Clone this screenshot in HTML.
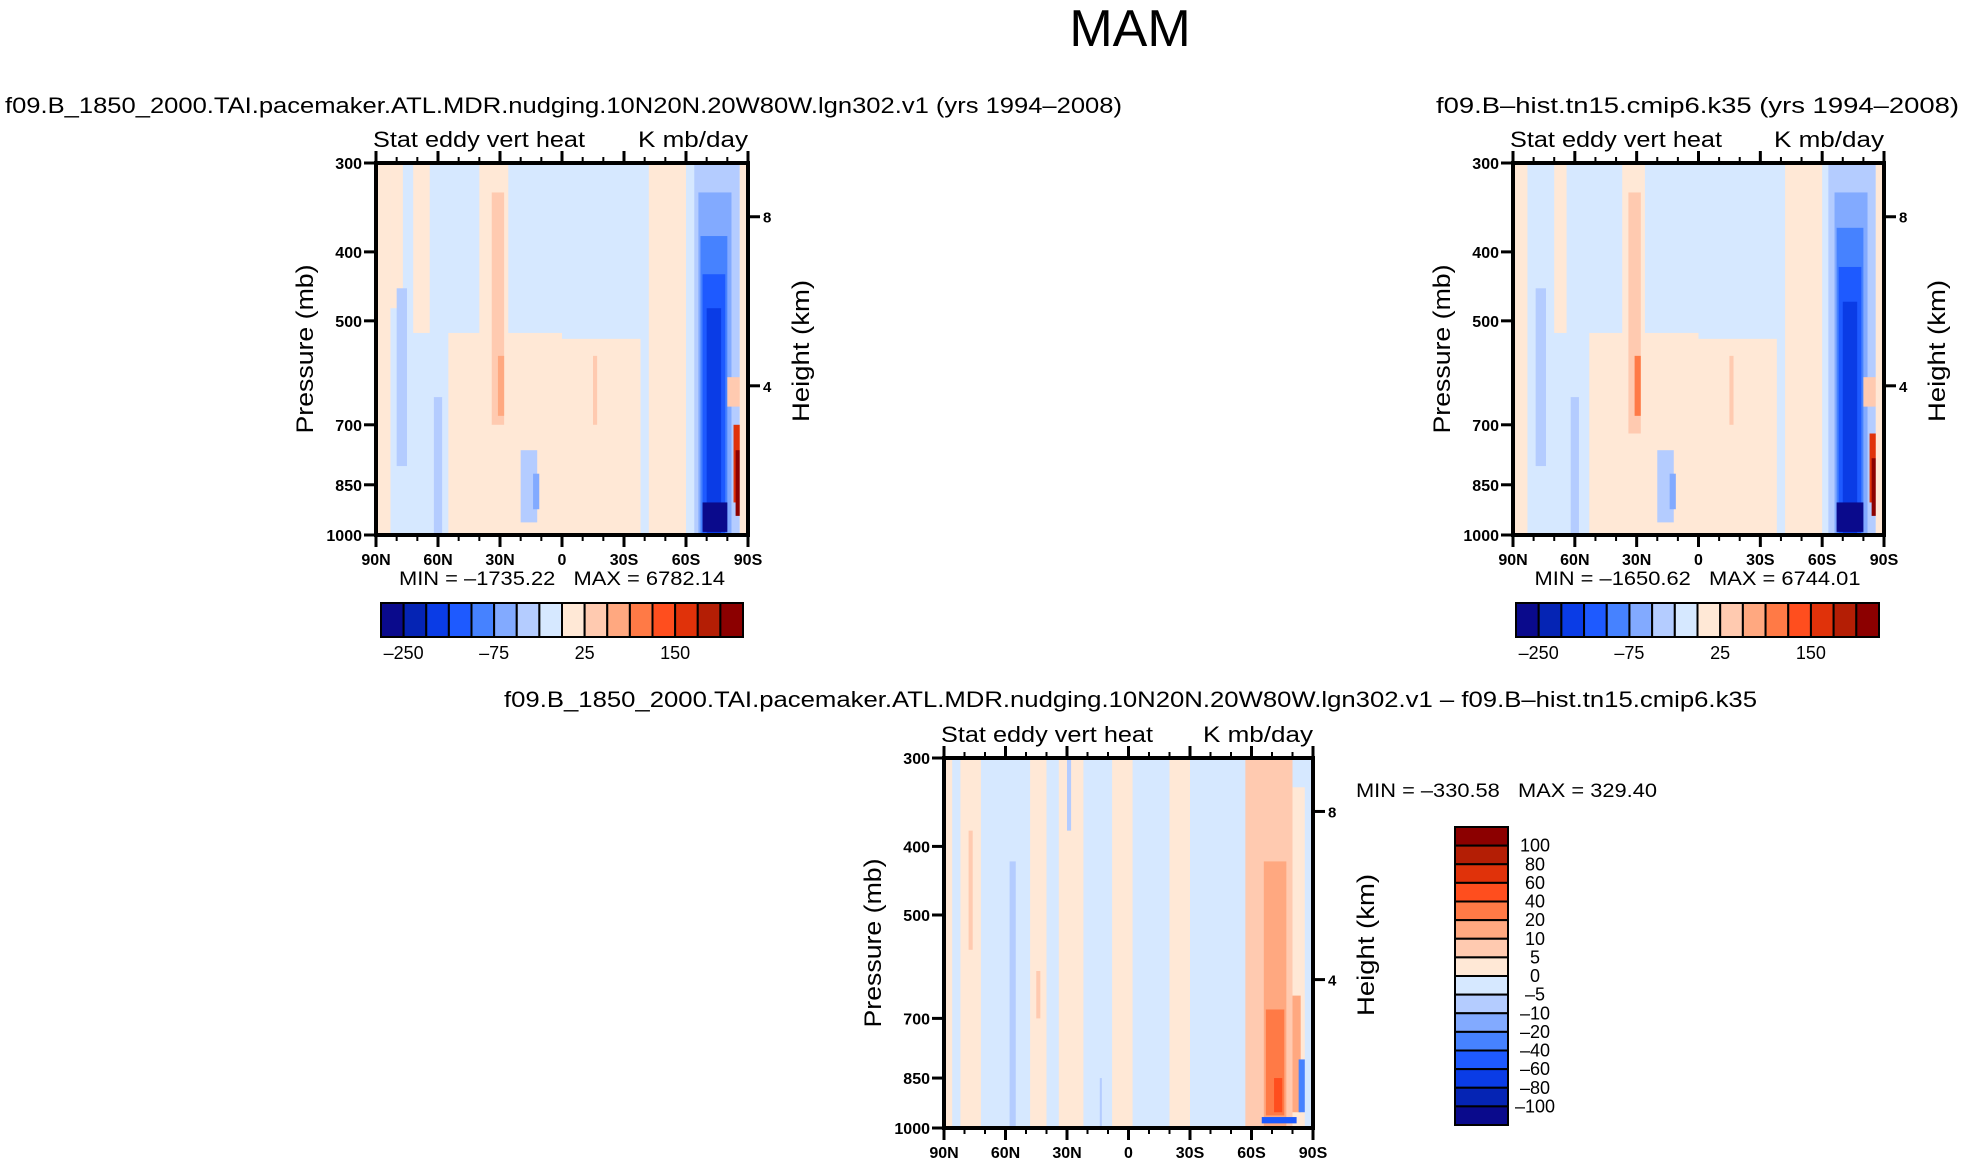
<!DOCTYPE html>
<html><head><meta charset="utf-8"><style>
body{margin:0;background:#fff;}
svg{display:block;font-family:"Liberation Sans",sans-serif;}
</style></head><body>
<svg id="s" width="1965" height="1167" xmlns="http://www.w3.org/2000/svg">
<text x="1130" y="46" font-size="52" text-anchor="middle" font-weight="300">MAM</text>
<text x="5" y="113" font-size="22.5" textLength="1117" lengthAdjust="spacingAndGlyphs">f09.B_1850_2000.TAI.pacemaker.ATL.MDR.nudging.10N20N.20W80W.lgn302.v1 (yrs 1994–2008)</text>
<text x="1436" y="113" font-size="22.5" textLength="523" lengthAdjust="spacingAndGlyphs">f09.B–hist.tn15.cmip6.k35 (yrs 1994–2008)</text>
<text x="504" y="707" font-size="22.5" textLength="1253" lengthAdjust="spacingAndGlyphs">f09.B_1850_2000.TAI.pacemaker.ATL.MDR.nudging.10N20N.20W80W.lgn302.v1 – f09.B–hist.tn15.cmip6.k35</text>
</svg>
<script>
const colors=["#0a0a8c","#0524b4","#0a3ce6","#1e5aff","#4682ff","#82aaff","#b4ccff","#d6e8ff","#ffe8d6","#ffcab0","#ffa880","#ff7a46","#ff4e1e","#e0320a","#b41e05","#8c0000"];
const presTicks=[300,400,500,700,850,1000];
const latTicks=[90,60,30,0,-30,-60,-90];
const latLabels=["90N","60N","30N","0","30S","60S","90S"];
const hgtTicks=[8,4];
const hgtPress=[357,617];
const absBarLabels=["–250","–75","25","150"];
const diffBarLabels=["100","80","60","40","20","10","5","0","–5","–10","–20","–40","–60","–80","–100"];
// patches: [latN, latS, pTop, pBot, level]
const p1Background=7;
const p1Patches=[
[90,83,300,1000,8],[83,77,300,480,8],[72,64,300,520,8],[55,0,520,1000,8],[40,26,300,1000,8],
[34,28,330,700,9],[31,28,560,680,10],[0,-38,530,1000,8],[-42,-60,300,1000,8],[-15,-17,560,700,9],
[80,75,450,800,6],[62,58,640,1000,6],[20,12,760,960,6],[14,11,820,920,5],
[-64,-86,300,1000,6],[-66,-82,330,1000,5],[-67,-80,380,1000,4],[-68,-79,430,1000,3],[-70,-77,480,1000,2],[-68,-80,900,990,0],
[-80,-88,600,660,9],[-83,-88,700,900,13],[-84,-87,760,940,15],[-86,-90,300,1000,8]
];
const p2Background=7;
const p2Patches=[
[90,83,300,1000,8],[70,64,300,520,8],[53,0,520,1000,8],[37,26,300,1000,8],
[34,28,330,720,9],[31,28,560,680,11],[0,-38,530,1000,8],[-42,-60,300,1000,8],[-15,-17,560,700,9],
[79,74,450,800,6],[62,58,640,1000,6],[20,12,760,960,6],[14,11,820,920,5],
[-63,-86,300,1000,6],[-66,-82,330,1000,5],[-67,-80,370,1000,4],[-68,-79,420,1000,3],[-70,-77,470,1000,2],[-67,-80,900,990,0],
[-80,-88,600,660,9],[-83,-88,720,900,13],[-84,-87,780,940,15],[-86,-90,300,1000,8]
];
const p3Background=7;
const p3Patches=[
[90,86,300,1000,8],[82,72,300,1000,8],[78,76,380,560,9],[48,40,300,1000,8],[45,43,600,700,9],
[34,22,300,1000,8],[8,-2,300,1000,8],[-20,-30,300,1000,8],[-57,-80,300,1000,9],[-66,-77,420,1000,10],
[-67,-76,680,960,11],[-71,-75,850,950,12],[-80,-86,330,1000,8],[-80,-84,650,950,10],[-83,-86,800,950,4],[-65,-82,965,985,3],
[58,55,420,1000,6],[14,13,850,1000,6],[30,28,300,380,6]
];
const S=document.getElementById('s');
const NS="http://www.w3.org/2000/svg";
function mk(t,a,txt){const e=document.createElementNS(NS,t);for(const k in a)e.setAttribute(k,a[k]);if(txt!==undefined)e.textContent=txt;S.appendChild(e);return e;}
function panel(id,L,R,T,B,bg,patches,tag){
  const xs=lat=>L+(90-lat)/180*(R-L);
  const ys=p=>T+(Math.log(p)-Math.log(300))/(Math.log(1000)-Math.log(300))*(B-T);
  const bgR=mk('rect',{x:L,y:T,width:R-L,height:B-T,fill:colors[bg]});
  
  
  patches.forEach((q,i)=>{
    const r=mk('rect',{x:xs(q[0]),y:ys(q[2]),width:xs(q[1])-xs(q[0]),height:ys(q[3])-ys(q[2]),fill:colors[q[4]]});
    
    
  });
  const fr=mk('rect',{x:L,y:T,width:R-L,height:B-T,fill:'none',stroke:'#000','stroke-width':4});
  
  
  presTicks.forEach(p=>{
    mk('line',{x1:L-12,x2:L,y1:ys(p),y2:ys(p),stroke:'#000','stroke-width':3});
    const t=mk('text',{x:L-14,y:ys(p)+6,'font-size':16,'font-weight':'bold','text-anchor':'end'},p);
    
    
  });
  latTicks.forEach((l,i)=>{
    mk('line',{x1:xs(l),x2:xs(l),y1:B,y2:B+12,stroke:'#000','stroke-width':3});
    mk('line',{x1:xs(l),x2:xs(l),y1:T,y2:T-12,stroke:'#000','stroke-width':3});
    const t=mk('text',{x:xs(l),y:B+30,'font-size':16,'font-weight':'bold','text-anchor':'middle'},latLabels[i]);
    
    
  });
  for(let l=80;l>-90;l-=10){if(l%30)
    {mk('line',{x1:xs(l),x2:xs(l),y1:B,y2:B+6,stroke:'#000','stroke-width':2});mk('line',{x1:xs(l),x2:xs(l),y1:T,y2:T-6,stroke:'#000','stroke-width':2});}}
  hgtTicks.forEach((h,i)=>{
    const y=ys(hgtPress[i]);
    mk('line',{x1:R,x2:R+12,y1:y,y2:y,stroke:'#000','stroke-width':3});
    const t=mk('text',{x:R+15,y:y+6,'font-size':15,'font-weight':'bold'},h);
    
    
  });
  const yl=mk('text',{x:0,y:0,'font-size':24,'text-anchor':'middle',textLength:169,lengthAdjust:'spacingAndGlyphs',transform:`translate(${L-63},${(T+B)/2}) rotate(-90)`},'Pressure (mb)');
  
  
  const yr=mk('text',{x:0,y:0,'font-size':24,'text-anchor':'middle',textLength:142,lengthAdjust:'spacingAndGlyphs',transform:`translate(${R+61},${(T+B)/2+2}) rotate(-90)`},'Height (km)');
  
  
  const a=mk('text',{x:L-3,y:T-16,'font-size':22,textLength:212,lengthAdjust:'spacingAndGlyphs'},'Stat eddy vert heat');
  
  
  const b=mk('text',{x:R-110,y:T-16,'font-size':22,textLength:110,lengthAdjust:'spacingAndGlyphs'},'K mb/day');
  
  
}
function hbar(tag,L,R,T,B,mn,mx){
  const w=(R-L)/16;
  colors.forEach((c,i)=>{const r=mk('rect',{x:L+i*w,y:T,width:w,height:B-T,fill:c,stroke:'#000','stroke-width':2});
    
    });
  absBarLabels.forEach((s,i)=>{const t=mk('text',{x:L+w*(1+4*i),y:B+22,'font-size':18,'text-anchor':'middle'},s);
    
    });
  const m=mk('text',{x:(L+R)/2-163,y:T-18,'font-size':19,textLength:326,lengthAdjust:'spacingAndGlyphs'},`MIN = ${mn}   MAX = ${mx}`);
  
  
  m.style.whiteSpace='pre';
}
panel('p1',376,748,163,535,p1Background,p1Patches,'panel1');
hbar('panel1',381,743,603,637,'–1735.22','6782.14');
panel('p2',1513,1884,163,535,p2Background,p2Patches,'panel2');
hbar('panel2',1516,1879,603,637,'–1650.62','6744.01');
panel('p3',944,1313,758,1128,p3Background,p3Patches,'diff');
const vT=827,vB=1125,vL=1455,vR=1508,vh=(vB-vT)/16;
colors.slice().reverse().forEach((c,i)=>{const r=mk('rect',{x:vL,y:vT+i*vh,width:vR-vL,height:vh,fill:c,stroke:'#000','stroke-width':2});
  
  });
diffBarLabels.forEach((s,i)=>{const t=mk('text',{x:1535,y:vT+vh*(i+1)+6,'font-size':18,'text-anchor':'middle'},s);
  
  });
const dm=mk('text',{x:1356,y:797,'font-size':19,textLength:301,lengthAdjust:'spacingAndGlyphs'},'MIN = –330.58   MAX = 329.40');


dm.style.whiteSpace='pre';
</script>
</body></html>
